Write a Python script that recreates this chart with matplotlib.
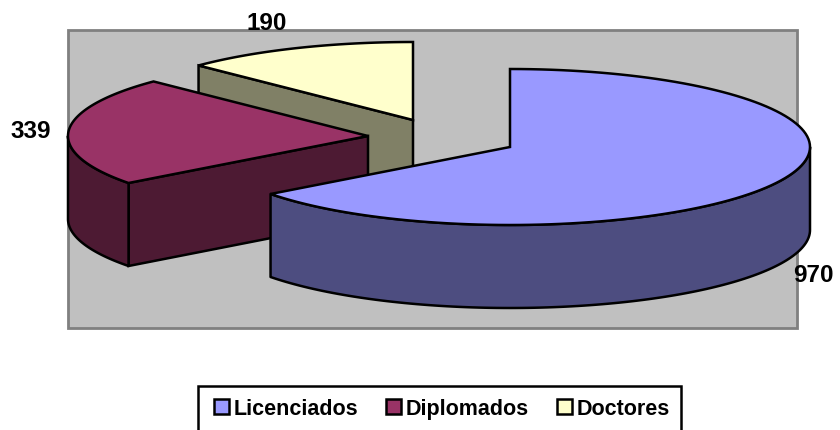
import numpy as np
import matplotlib
matplotlib.use('Agg')
import matplotlib.pyplot as plt
from matplotlib.patches import Polygon, Rectangle

plt.rcParams['font.family'] = ['Liberation Sans', 'DejaVu Sans']

labels = ['Licenciados', 'Diplomados', 'Doctores']
values = [970, 339, 190]
top_colors = ['#9999FF', '#993366', '#FFFFCC']
side_colors = ['#4D4D80', '#4D1A33', '#808066']
# apex of each exploded slice, in pixels
apex_x = [510, 368, 413]
apex_y = [147, 136, 120]
label_x = [813, 31, 267]
label_y = [276, 132, 23]

rx = 300
ry = 78
depth = 83
lw = 1.8

fig = plt.figure(figsize=(8.4, 4.3), dpi=100)
ax = fig.add_axes([0, 0, 1, 1])
ax.set_xlim(0, 840)
ax.set_ylim(430, 0)
ax.axis('off')

# plot area
ax.add_patch(Rectangle((68, 30), 729, 298, fc='#C0C0C0', ec='#808080', lw=2, zorder=1))


def arc(cx, cy, a0, a1, n=120):
    t = np.radians(np.linspace(a0, a1, n))
    return np.column_stack([cx + rx*np.cos(t), cy - ry*np.sin(t)])


# slices go clockwise from 12 o'clock
angles = [90.0]
for v in values:
    angles.append(angles[-1] - v/sum(values)*360)

# rim part that faces the viewer, angles between 0 and -180
for i in [2, 1, 0]:
    cx, cy = apex_x[i], apex_y[i]
    a0, a1 = angles[i], angles[i+1]
    z = 3 + (2 - i)*3
    apex = np.array([[cx, cy]])
    # radial wall at the start of the slice, hidden on the big one
    if i > 0:
        end = arc(cx, cy, a0, a0, 1)
        wall = np.vstack([apex, end, end + [0, depth], apex + [0, depth]])
        ax.add_patch(Polygon(wall, fc=side_colors[i], ec='black', lw=lw, joinstyle='miter', zorder=z))
    hi = min(a0, 0)
    lo = max(a1, -180)
    if hi > lo:
        rim = arc(cx, cy, hi, lo)
        outer = np.vstack([rim, (rim + [0, depth])[::-1]])
        ax.add_patch(Polygon(outer, fc=side_colors[i], ec='black', lw=lw, joinstyle='round', zorder=z))
    # top face
    top = np.vstack([apex, arc(cx, cy, a0, a1)])
    ax.add_patch(Polygon(top, fc=top_colors[i], ec='black', lw=lw, joinstyle='miter', zorder=z + 1))

for i in range(3):
    ax.text(label_x[i], label_y[i], str(values[i]), fontsize=17.5, fontweight='bold',
            ha='center', va='center', color='black', zorder=20)

# legend, runs off the bottom of the picture like the source
ax.add_patch(Rectangle((198, 385.5), 483, 60, fc='white', ec='black', lw=1.8, zorder=2))
box_x = [214, 386, 557]
text_x = [234, 406, 577]
for i in range(3):
    ax.add_patch(Rectangle((box_x[i], 399), 15, 15, fc=top_colors[i], ec='black', lw=1.8, zorder=3))
    ax.text(text_x[i], 407, labels[i], fontsize=15.5, fontweight='bold', ha='left', va='center_baseline',
            color='black', zorder=3)

fig.savefig('out.png', dpi=100)
